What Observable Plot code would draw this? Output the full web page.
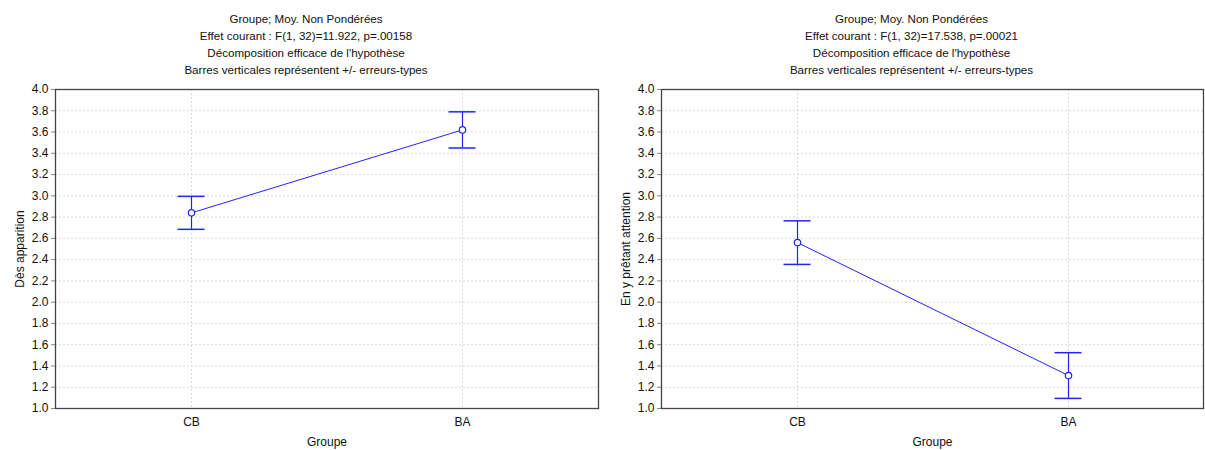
<!DOCTYPE html>
<html>
<head>
<meta charset="utf-8">
<script src="https://cdn.jsdelivr.net/npm/d3@7"></script>
<script src="https://cdn.jsdelivr.net/npm/@observablehq/plot@0.6"></script>
<style>
  body { margin: 0; background: #fff; }
  #wrap { display: flex; width: 1205px; height: 450px; }
  svg { display: block; }
</style>
</head>
<body>
<div id="wrap"></div>
<script>
const groups = ["CB", "BA"];
const apparitionMean = [2.84, 3.62];
const apparitionSE = [0.155, 0.17];
const attentionMean = [2.56, 1.31];
const attentionSE = [0.205, 0.215];
const yTicks = [1.0, 1.2, 1.4, 1.6, 1.8, 2.0, 2.2, 2.4, 2.6, 2.8, 3.0, 3.2, 3.4, 3.6, 3.8, 4.0];
const titleLeft = ["Groupe; Moy. Non Pondérées", "Effet courant : F(1, 32)=11.922, p=.00158", "Décomposition efficace de l'hypothèse", "Barres verticales représentent +/- erreurs-types"];
const titleRight = ["Groupe; Moy. Non Pondérées", "Effet courant : F(1, 32)=17.538, p=.00021", "Décomposition efficace de l'hypothèse", "Barres verticales représentent +/- erreurs-types"];
const xLabel = "Groupe";
const yLabelLeft = "Dès apparition";
const yLabelRight = "En y prêtant attention";

const BLUE = "#2323f5";

function panel({means, ses, title, yLabel, width, marginLeft, marginRight, titleDx}) {
  const data = groups.map((g, i) => ({g, m: means[i], lo: means[i] - ses[i], hi: means[i] + ses[i]}));
  return Plot.plot({
    width, height: 450,
    marginLeft, marginRight, marginTop: 89, marginBottom: 42,
    style: {fontFamily: "'Liberation Sans', Arial, sans-serif", fontSize: "12px", color: "#111", background: "#fff"},
    x: {type: "point", domain: groups, padding: 0.5},
    y: {domain: [1, 4]},
    marks: [
      Plot.gridY(yTicks, {stroke: "#dadada", strokeOpacity: 1, strokeDasharray: "2,2"}),
      Plot.gridX(groups, {stroke: "#dadada", strokeOpacity: 1, strokeDasharray: "2,2"}),
      Plot.axisY(yTicks, {tickFormat: d => d.toFixed(1), tickSize: 4, tickPadding: 3, stroke: "#888", label: yLabel, labelAnchor: "center", labelArrow: "none", labelOffset: 40, fontSize: 12}),
      Plot.axisX({tickSize: 0, tickPadding: 9, label: xLabel, labelAnchor: "center", labelArrow: "none", labelOffset: 37, fontSize: 12}),
      Plot.frame({stroke: "#444", strokeWidth: 1.3}),
      Plot.text([title.join("\n")], {frameAnchor: "top", lineAnchor: "bottom", dy: -16, dx: titleDx, lineHeight: 1.46, fontSize: 11.6, fill: "#111"}),
      Plot.line(data, {x: "g", y: "m", stroke: BLUE, strokeWidth: 1}),
      Plot.ruleX(data, {x: "g", y1: "lo", y2: "hi", stroke: BLUE, strokeWidth: 1.2}),
      Plot.ruleY(data, {x1: "g", x2: "g", y: "lo", stroke: BLUE, strokeWidth: 1.5, insetLeft: -13.5, insetRight: -13.5}),
      Plot.ruleY(data, {x1: "g", x2: "g", y: "hi", stroke: BLUE, strokeWidth: 1.5, insetLeft: -13.5, insetRight: -13.5}),
      Plot.dot(data, {x: "g", y: "m", r: 3.2, fill: "white", stroke: BLUE, strokeWidth: 1.2})
    ]
  });
}

const wrap = document.getElementById("wrap");
wrap.append(panel({means: apparitionMean, ses: apparitionSE, title: titleLeft, yLabel: yLabelLeft, width: 603, marginLeft: 55, marginRight: 5, titleDx: -21}));
wrap.append(panel({means: attentionMean, ses: attentionSE, title: titleRight, yLabel: yLabelRight, width: 602, marginLeft: 58, marginRight: 2, titleDx: -21}));
</script>
</body>
</html>
